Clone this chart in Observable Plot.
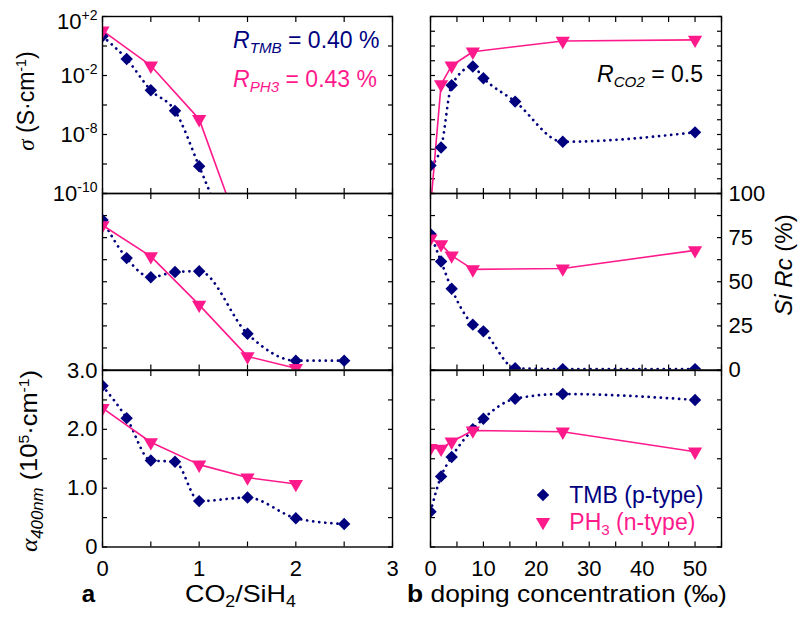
<!DOCTYPE html>
<html><head><meta charset="utf-8">
<script src="https://cdn.jsdelivr.net/npm/d3@7"></script>
<script src="https://cdn.jsdelivr.net/npm/@observablehq/plot@0.6"></script>
<style>
body{margin:0;background:#fff;}
#root{position:relative;width:801px;height:618px;font-family:"Liberation Sans",Arial,sans-serif;overflow:hidden;background:#fff;}
.lbl{position:absolute;white-space:nowrap;line-height:1;color:#000;transform-origin:0 0;}
.sup{font-size:0.62em;position:relative;top:-0.55em;}
.sub{font-size:0.66em;position:relative;top:0.35em;}
.gr{font-family:"Liberation Serif","DejaVu Serif",serif;font-style:italic;}
</style></head><body><div id="root"></div>
<script>
// ---------- data ----------
// panel a : x = CO2/SiH4
const co2TMB = [0, 0.25, 0.5, 0.75, 1, 1.5, 2, 2.5];
const co2PH3 = [0, 0.5, 1, 1.5, 2];
const co2SigmaTMB = [0, 0.25, 0.5, 0.75, 1, 1.5];
const co2SigmaPH3 = [0, 0.5, 1, 1.5];
const sigmaTMB_a = [4.5, 0.13, 1.0e-3, 4.0e-5, 7.0e-9, 3e-17];
const sigmaPH3_a = [11, 0.046, 1.1e-5, 1e-14];
const siRcTMB_a = [85, 63.4, 52.6, 55.5, 56, 20.5, 5.3, 5.3];
const siRcPH3_a = [82, 64.4, 36.9, 7.7, 1];
const alphaTMB_a = [2.74, 2.19, 1.47, 1.45, 0.78, 0.84, 0.49, 0.39];
const alphaPH3_a = [2.36, 1.78, 1.40, 1.18, 1.07];
// panel b : x = doping concentration (‰)
const dopTMB = [0, 2, 4, 8, 10, 16, 25, 50];
const dopPH3 = [0, 2, 4, 8, 25, 50];
const sigmaTMB_b = [7.9e-9, 1.3e-7, 2.2e-3, 4.1e-2, 6.6e-3, 1.7e-4, 3.2e-7, 1.4e-6];
const sigmaPH3_b = [1e-11, 2.5e-3, 4.6e-2, 0.41, 2.2, 2.6];
const siRcTMB_b = [77, 61.5, 46, 25.7, 21.9, 1, 0.5, 0.5];
const siRcPH3_b = [74.5, 71.2, 64.8, 57, 57.5, 67.8];
const alphaTMB_b = [0.60, 1.20, 1.53, 2.0, 2.18, 2.52, 2.60, 2.50];
const alphaPH3_b = [1.68, 1.67, 1.79, 1.98, 1.96, 1.62];

// ---------- ticks ----------
const xTicksA = [0, 0.5, 1, 1.5, 2, 2.5, 3];
const xLabelsA = [0, 1, 2, 3];
const xTicksB = [0, 5, 10, 15, 20, 25, 30, 35, 40, 45, 50, 55];
const xLabelsB = [0, 10, 20, 30, 40, 50];
const sigmaTickValues = [1e2, 1e-2, 1e-6, 1e-10];
const sigmaTickLabels = ["10^+2", "10^-2", "10^-8", "10^-10"];
const sigmaMinorA = [1e2, 1, 1e-2, 1e-4, 1e-6, 1e-8, 1e-10];
const sigmaMinorB = [1e2, 1e1, 1, 1e-1, 1e-2, 1e-3, 1e-4, 1e-5, 1e-6, 1e-7, 1e-8, 1e-9, 1e-10];
const siRcTicks = [0, 25, 50, 75, 100];
const siRcMinor = [0, 12.5, 25, 37.5, 50, 62.5, 75, 87.5, 100];
const alphaTickValues = [0, 1, 2, 3];
const alphaTickLabels = ["0", "1.0", "2.0", "3.0"];
const alphaMinor = [0, 0.5, 1, 1.5, 2, 2.5, 3];

const navy = "#00007f", pink = "#ff1a8c";
const FONT = "Liberation Sans, Arial, sans-serif";
const root = document.getElementById("root");

const rows = (xs, ys) => xs.map((x, i) => ({x, y: ys[i]}));
const triDown = {
  draw(ctx, size) {
    const y = Math.sqrt(size / (3 * Math.sqrt(3)));
    ctx.moveTo(0, 2 * y);
    ctx.lineTo(Math.sqrt(3) * y, -y);
    ctx.lineTo(-Math.sqrt(3) * y, -y);
    ctx.closePath();
  }
};

function series(tmb, ph3) {
  return [
    Plot.line(tmb, {x: "x", y: "y", stroke: navy, strokeWidth: 2.7, strokeDasharray: "0.1 6", strokeLinecap: "round", curve: "monotone-x", clip: true}),
    Plot.line(ph3, {x: "x", y: "y", stroke: pink, strokeWidth: 1.6, clip: true}),
    Plot.dot(tmb, {x: "x", y: "y", symbol: "diamond2", r: 5.6, fill: navy, clip: true}),
    Plot.dot(ph3, {x: "x", y: "y", symbol: triDown, r: 5.3, fill: pink, clip: true})
  ];
}

const colA = {left: 0, width: 400, marginLeft: 102, marginRight: 8, x: {domain: [0, 3]}, xMinor: xTicksA};
const colB = {left: 400, width: 401, marginLeft: 30, marginRight: 80, x: {domain: [0, 55]}, xMinor: xTicksB};
const rowS = {top: 0, height: 193, marginTop: 16, marginBottom: 0, y: {type: "log", domain: [1e-10, 1e2]}};
const rowR = {top: 193, height: 176.5, marginTop: 0, marginBottom: 0, y: {domain: [0, 100]}};
const rowA = {top: 369.5, height: 206.5, marginTop: 0, marginBottom: 30, y: {domain: [0, 3]}};

function inTicks(col, yMinor) {
  const o = {tickSize: -5, tickFormat: () => "", label: null, strokeWidth: 1.2};
  return [
    Plot.axisX({anchor: "bottom", ticks: col.xMinor, ...o}),
    Plot.axisX({anchor: "top", ticks: col.xMinor, ...o}),
    Plot.axisY({anchor: "left", ticks: yMinor, ...o}),
    Plot.axisY({anchor: "right", ticks: yMinor, ...o})
  ];
}

function addPlot(col, row, yMinor, extra) {
  const svg = Plot.plot({
    width: col.width, height: row.height,
    marginLeft: col.marginLeft, marginRight: col.marginRight,
    marginTop: row.marginTop, marginBottom: row.marginBottom,
    x: {...col.x}, y: {...row.y},
    style: {overflow: "visible", background: "transparent", fontFamily: FONT, fontSize: "22px", color: "black"},
    marks: [...inTicks(col, yMinor), ...extra, Plot.frame({stroke: "black", strokeWidth: 1.4})]
  });
  svg.style.position = "absolute";
  svg.style.left = col.left + "px";
  svg.style.top = row.top + "px";
  root.appendChild(svg);
  return svg;
}

const NS = "http://www.w3.org/2000/svg";
function supLabels(svg) {
  svg.querySelectorAll("text").forEach(t => {
    const m = t.textContent.match(/^(\d+)\^(.+)$/);
    if (!m) return;
    t.textContent = "";
    const a = document.createElementNS(NS, "tspan");
    a.textContent = m[1];
    if (m[2] === "+2") a.setAttribute("dy", "5");
    const b = document.createElementNS(NS, "tspan");
    b.textContent = m[2];
    b.setAttribute("font-size", "14");
    b.setAttribute("dy", "-9");
    t.append(a, b);
  });
}

// ---- panel a ----
const sA = addPlot(colA, rowS, sigmaMinorA, [
  Plot.axisY({anchor: "left", ticks: sigmaTickValues, tickFormat: d => sigmaTickLabels[sigmaTickValues.indexOf(d)], tickSize: 0, tickPadding: 5, label: null, fontSize: 22}),
  ...series(rows(co2SigmaTMB, sigmaTMB_a), rows(co2SigmaPH3, sigmaPH3_a))
]);
supLabels(sA);
addPlot(colA, rowR, siRcMinor, series(rows(co2TMB, siRcTMB_a), rows(co2PH3, siRcPH3_a)));
addPlot(colA, rowA, alphaMinor, [
  Plot.axisY({anchor: "left", ticks: alphaTickValues, tickFormat: d => alphaTickLabels[alphaTickValues.indexOf(d)], tickSize: 0, tickPadding: 5, label: null, fontSize: 22}),
  Plot.axisX({anchor: "bottom", ticks: xLabelsA, tickFormat: d => String(d), tickSize: 0, tickPadding: 13, label: null, fontSize: 22}),
  ...series(rows(co2TMB, alphaTMB_a), rows(co2PH3, alphaPH3_a))
]);

// ---- panel b ----
addPlot(colB, rowS, sigmaMinorB, series(rows(dopTMB, sigmaTMB_b), rows(dopPH3, sigmaPH3_b)));
addPlot(colB, rowR, siRcMinor, [
  Plot.axisY({anchor: "right", ticks: siRcTicks, tickFormat: d => String(d), tickSize: 0, tickPadding: 7, label: null, fontSize: 22}),
  ...series(rows(dopTMB, siRcTMB_b), rows(dopPH3, siRcPH3_b))
]);
addPlot(colB, rowA, alphaMinor, [
  Plot.axisX({anchor: "bottom", ticks: xLabelsB, tickFormat: d => String(d), tickSize: 0, tickPadding: 13, label: null, fontSize: 22}),
  ...series(rows(dopTMB, alphaTMB_b), rows(dopPH3, alphaPH3_b))
]);

// ---------- text ----------
function label(html, x, baseline, size, extra = "", sx = 1) {
  const d = document.createElement("div");
  d.className = "lbl";
  d.innerHTML = html;
  d.style.cssText += `left:${x}px;top:${baseline - 0.8465 * size}px;font-size:${size}px;transform:scaleX(${sx});${extra}`;
  root.appendChild(d);
}
function rlabel(html, cx, cy, size, sx = 1, extra = "") {
  const d = document.createElement("div");
  d.className = "lbl";
  d.innerHTML = html;
  d.style.cssText += `left:${cx}px;top:${cy}px;font-size:${size}px;transform-origin:50% 50%;transform:translate(-50%,-50%) rotate(-90deg) scaleX(${sx});${extra}`;
  root.appendChild(d);
}

label(`<i>R</i><span class="sub"><i>TMB</i></span> = 0.40 %`, 233, 48, 23, `color:${navy}`);
label(`<i>R</i><span class="sub"><i>PH3</i></span> = 0.43 %`, 233, 87, 23, `color:${pink}`);
label(`<i>R</i><span class="sub"><i>CO2</i></span> = 0.5`, 597, 82, 23);

rlabel(`<span class="gr">σ</span> (S·cm<span class="sup">-1</span>)`, 25.7, 101, 23);
rlabel(`<span class="gr">α</span><span class="sub"><i>400nm</i></span> (10<span class="sup">5</span>·cm<span class="sup">-1</span>)`, 29, 461, 24, 1.06);
rlabel(`<i>Si Rc</i> (%)`, 783.7, 265, 24);

label(`<b>a</b>`, 81.7, 602, 24);
label(`CO<span class="sub">2</span>/SiH<span class="sub">4</span>`, 185, 602, 24, "", 1.12);
label(`<b>b</b> doping concentration (‰)`, 406.7, 602, 24, "", 1.1);

// legend
function legendSym(sym, color, cx, cy, r) {
  const s = document.createElementNS(NS, "svg");
  s.setAttribute("width", 20); s.setAttribute("height", 20);
  s.style.cssText = `position:absolute;left:${cx - 10}px;top:${cy - 10}px;overflow:visible`;
  const p = document.createElementNS(NS, "path");
  p.setAttribute("d", d3.symbol(sym, Math.PI * r * r)());
  p.setAttribute("transform", "translate(10,10)");
  p.setAttribute("fill", color);
  s.appendChild(p);
  root.appendChild(s);
}
legendSym(d3.symbolDiamond2, navy, 542.7, 495, 5.6);
legendSym(triDown, pink, 542.7, 522, 5.3);
label(`TMB (p-type)`, 569.3, 503.3, 23, `color:${navy}`);
label(`PH<span class="sub">3</span> (n-type)`, 569.3, 530, 23, `color:${pink}`);
</script></body></html>
